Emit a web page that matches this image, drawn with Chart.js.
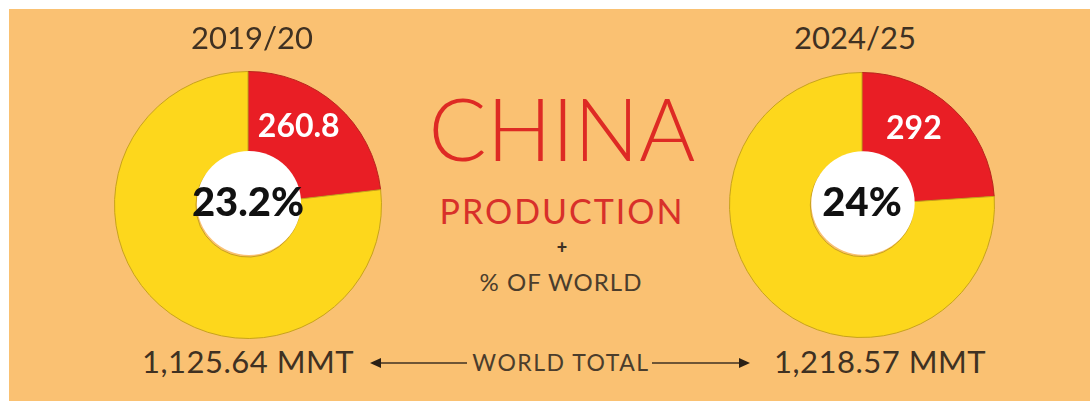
<!DOCTYPE html>
<html>
<head>
<meta charset="utf-8">
<script src="https://cdn.jsdelivr.net/npm/chart.js@4"></script>
<style>
  html, body { margin: 0; padding: 0; background: #fff; }
  body { width: 1090px; height: 401px; position: relative; overflow: hidden; font-family: Lato, sans-serif; }
  #panel { position: absolute; left: 9px; top: 9px; right: 0; bottom: 0; background: #fac172; }
  .txt { position: absolute; line-height: 1; white-space: nowrap; text-align: center; transform: translateX(-50%); }
  .anio { font-size: 31px; color: #3f3122; font-weight: 400; }
  .total { font-size: 31px; color: #3f3122; font-weight: 400; letter-spacing: 0.5px; }
  .valor { font-size: 32px; color: #fff; font-weight: 700; transform: translate(-50%, -50%); }
  .pct { font-size: 40px; color: #111; font-weight: 900; transform: translate(-50%, -50%); }
  canvas { position: absolute; }
</style>
</head>
<body>
<div id="panel"></div>

<div class="txt" style="left:562px; top:85px; font-size:86px; font-weight:300; color:#de2a24;">CHINA</div>
<div class="txt" style="left:562px; top:194px; font-size:34px; font-weight:400; color:#d8302a; letter-spacing:2px;">PRODUCTION</div>
<div class="txt" style="left:562px; top:238px; font-size:18px; font-weight:900; color:#3f3122;">+</div>
<div class="txt" style="left:561px; top:270px; font-size:24px; font-weight:400; color:#4b3d2c; letter-spacing:1px;">% OF WORLD</div>
<div class="txt" style="left:561px; top:351px; font-size:23px; font-weight:400; color:#4b3d2c; letter-spacing:1.5px;">WORLD TOTAL</div>

<svg width="1090" height="401" style="position:absolute;left:0;top:0;">
  <line x1="378" y1="363" x2="467" y2="363" stroke="#3f3122" stroke-width="1.5"/>
  <polygon points="370,363 381,358 381,368" fill="#2a2016"/>
  <line x1="652" y1="363" x2="742" y2="363" stroke="#3f3122" stroke-width="1.5"/>
  <polygon points="750,363 739,358 739,368" fill="#2a2016"/>
</svg>

<canvas id="pie0" width="268" height="268" style="left:114px; top:71px;"></canvas>
<canvas id="pie1" width="266" height="266" style="left:729px; top:72px;"></canvas>

<script>
// Datos
var temporadas = ["2019/20", "2024/25"];
var produccionChina = [260.8, 292];
var totalMundial = [1125.64, 1218.57];
var porcentajes = ["23.2%", "24%"];

var rojo = "#e91e25";
var amarillo = "#fdd71c";

// Centro blanco sobre cada grafico
var centroBlanco = {
  id: "centroBlanco",
  afterDatasetsDraw: function(chart) {
    var arc = chart.getDatasetMeta(0).data[0];
    var ctx = chart.ctx;
    ctx.save();
    ctx.beginPath();
    ctx.arc(arc.x + 1, arc.y - 2, arc.innerRadius, 0, Math.PI * 2);
    ctx.fillStyle = "#fff";
    ctx.fill();
    ctx.restore();
  }
};

function crearEtiqueta(clase, texto, x, y) {
  var div = document.createElement("div");
  div.className = "txt " + clase;
  div.textContent = texto;
  div.style.left = x + "px";
  div.style.top = y + "px";
  document.body.appendChild(div);
}

function formatoTotal(valor) {
  return valor.toLocaleString("en-US", { minimumFractionDigits: 2 }) + " MMT";
}

var centrosAnio = [252, 855];
var centrosTotal = [248, 880];

for (var i = 0; i < temporadas.length; i++) {
  var canva = document.getElementById("pie" + i);
  var chart = new Chart(canva, {
    type: "doughnut",
    data: {
      labels: ["China", "Resto del mundo"],
      datasets: [{
        data: [produccionChina[i], totalMundial[i] - produccionChina[i]],
        backgroundColor: [rojo, amarillo],
        borderColor: ["#b8261c", "#c7a21c"],
        borderWidth: 1
      }]
    },
    options: {
      responsive: false,
      animation: false,
      cutout: "39%",
      layout: { padding: 0 },
      plugins: {
        legend: { display: false },
        tooltip: { enabled: false }
      }
    },
    plugins: [centroBlanco]
  });

  // posiciones tomadas del arco rojo
  var arc = chart.getDatasetMeta(0).data[0];
  var izq = canva.offsetLeft;
  var arriba = canva.offsetTop;
  var ang = arc.startAngle + (arc.endAngle - arc.startAngle) * 0.39;
  var r = arc.innerRadius + (arc.outerRadius - arc.innerRadius) * 0.52;
  crearEtiqueta("valor", String(produccionChina[i]), izq + arc.x + Math.cos(ang) * r, arriba + arc.y + Math.sin(ang) * r);
  crearEtiqueta("pct", porcentajes[i], izq + arc.x, arriba + arc.y - 4);

  crearEtiqueta("anio", temporadas[i], centrosAnio[i], 22);
  crearEtiqueta("total", formatoTotal(totalMundial[i]), centrosTotal[i], 346);
}
</script>
</body>
</html>
